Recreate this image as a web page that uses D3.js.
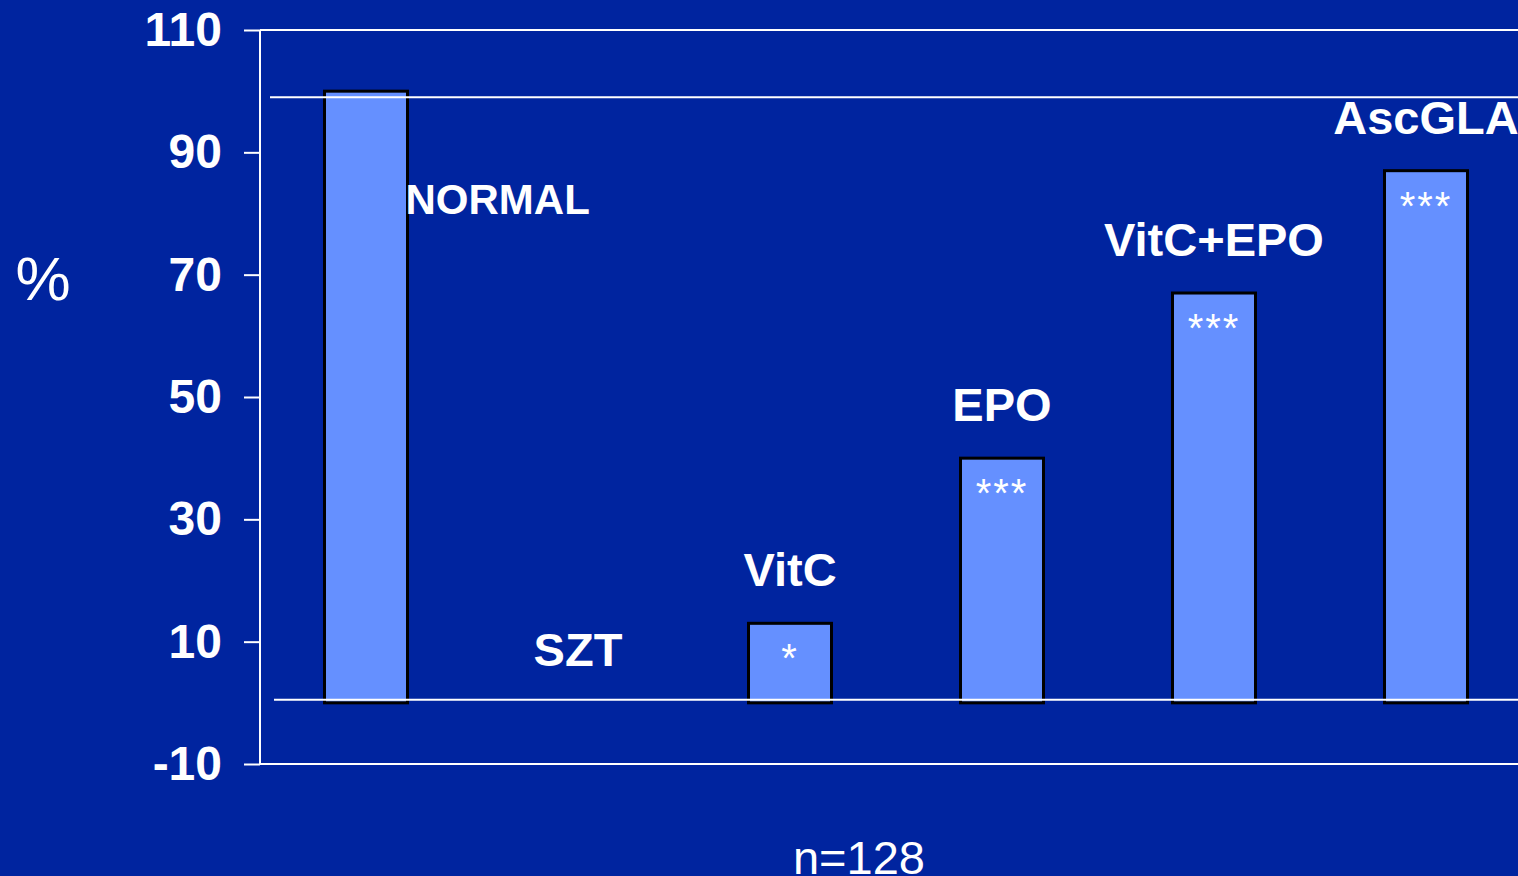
<!DOCTYPE html>
<html>
<head>
<meta charset="utf-8">
<script src="https://cdn.jsdelivr.net/npm/d3@7"></script>
<style>
  html, body { margin: 0; padding: 0; background: #00249f; overflow: hidden; }
  svg { display: block; font-family: "Liberation Sans", Arial, Helvetica, sans-serif; }
</style>
</head>
<body>
<svg id="chart" width="1518" height="876"></svg>
<script>
// Groups and mean response (%) for each treatment
const categories = ["NORMAL", "SZT", "VitC", "EPO", "VitC+EPO", "AscGLA"];
const values = [100, 0, 13, 40, 67, 87];
const significance = ["", "", "*", "***", "***", "***"];
const yTicks = [-10, 10, 30, 50, 70, 90, 110];
const referenceLevels = [99, 0.5];
const sampleNote = "n=128";
const unitLabel = "%";

const W = 1518, H = 876;
const bg = "#00249f", barFill = "#6590ff", ink = "#ffffff";

const svg = d3.select("#chart");
svg.append("rect").attr("width", W).attr("height", H).attr("fill", bg);

const plotLeft = 260, plotRight = 1532, plotTop = 30, plotBottom = 764;

const x = d3.scaleBand()
  .domain(categories)
  .range([plotLeft, plotRight])
  .paddingInner(0.6085)
  .paddingOuter(0.30425);

const y = d3.scaleLinear().domain([-10, 110]).range([plotBottom, plotTop]);

// Frame: left axis with ticks, plus top and bottom rules
const yAxis = d3.axisLeft(y).tickValues(yTicks).tickSize(16).tickPadding(22).tickFormat(d => String(d));
const gy = svg.append("g").attr("transform", `translate(${plotLeft},0)`).call(yAxis);
gy.select(".domain").attr("stroke", ink).attr("stroke-width", 2).attr("d", `M0,${plotTop}V${plotBottom}`);
gy.selectAll(".tick line").attr("stroke", ink).attr("stroke-width", 2);
gy.selectAll(".tick text")
  .attr("fill", ink)
  .attr("font-size", 48)
  .attr("font-weight", "bold")
  .attr("font-family", "Liberation Sans, Arial, sans-serif");

svg.append("g").selectAll("line.frame")
  .data([110, -10])
  .join("line")
  .attr("x1", plotLeft).attr("x2", W)
  .attr("y1", d => y(d)).attr("y2", d => y(d))
  .attr("stroke", ink).attr("stroke-width", 2);

// Bars
svg.append("g").selectAll("rect.bar")
  .data(categories)
  .join("rect")
  .attr("class", "bar")
  .attr("x", d => x(d))
  .attr("width", x.bandwidth())
  .attr("y", (d, i) => y(Math.max(values[i], 0)))
  .attr("height", (d, i) => Math.abs(y(0) - y(values[i])))
  .attr("fill", barFill)
  .attr("stroke", "#000")
  .attr("stroke-width", 3)
  .attr("display", (d, i) => values[i] > 0 ? null : "none");

// Reference levels drawn across the plot
const refStart = [270, 274];
svg.append("g").selectAll("line.ref")
  .data(referenceLevels)
  .join("line")
  .attr("x1", (d, i) => refStart[i]).attr("x2", W)
  .attr("y1", d => y(d)).attr("y2", d => y(d))
  .attr("stroke", ink).attr("stroke-width", 2);

// Significance markers inside bars
const starSize = 40;
svg.append("g").selectAll("text.sig")
  .data(categories)
  .join("text")
  .attr("x", d => x(d) + x.bandwidth() / 2)
  .attr("y", (d, i) => y(values[i]) + 25.5 + 0.59 * starSize)
  .attr("text-anchor", "middle")
  .attr("fill", ink)
  .attr("font-size", starSize)
  .attr("letter-spacing", 2)
  .text((d, i) => significance[i]);

// Group labels above each bar; the reference group sits beside its bar
svg.append("g").selectAll("text.cat")
  .data(categories)
  .join("text")
  .attr("x", (d, i) => i === 0 ? x(d) + x.bandwidth() - 2 : x(d) + x.bandwidth() / 2)
  .attr("y", (d, i) => i === 0 ? y(values[i]) + 123 : y(values[i]) - 37)
  .attr("text-anchor", (d, i) => i === 0 ? "start" : "middle")
  .attr("fill", ink)
  .attr("font-size", (d, i) => i === 0 ? 42 : 47)
  .attr("font-weight", "bold")
  .text(d => d);

// Unit label and sample size
svg.append("text")
  .attr("x", 43).attr("y", 300)
  .attr("text-anchor", "middle")
  .attr("fill", ink)
  .attr("font-size", 62)
  .text(unitLabel);

svg.append("text")
  .attr("x", 859).attr("y", 874)
  .attr("text-anchor", "middle")
  .attr("fill", ink)
  .attr("font-size", 47)
  .text(sampleNote);
</script>
</body>
</html>
